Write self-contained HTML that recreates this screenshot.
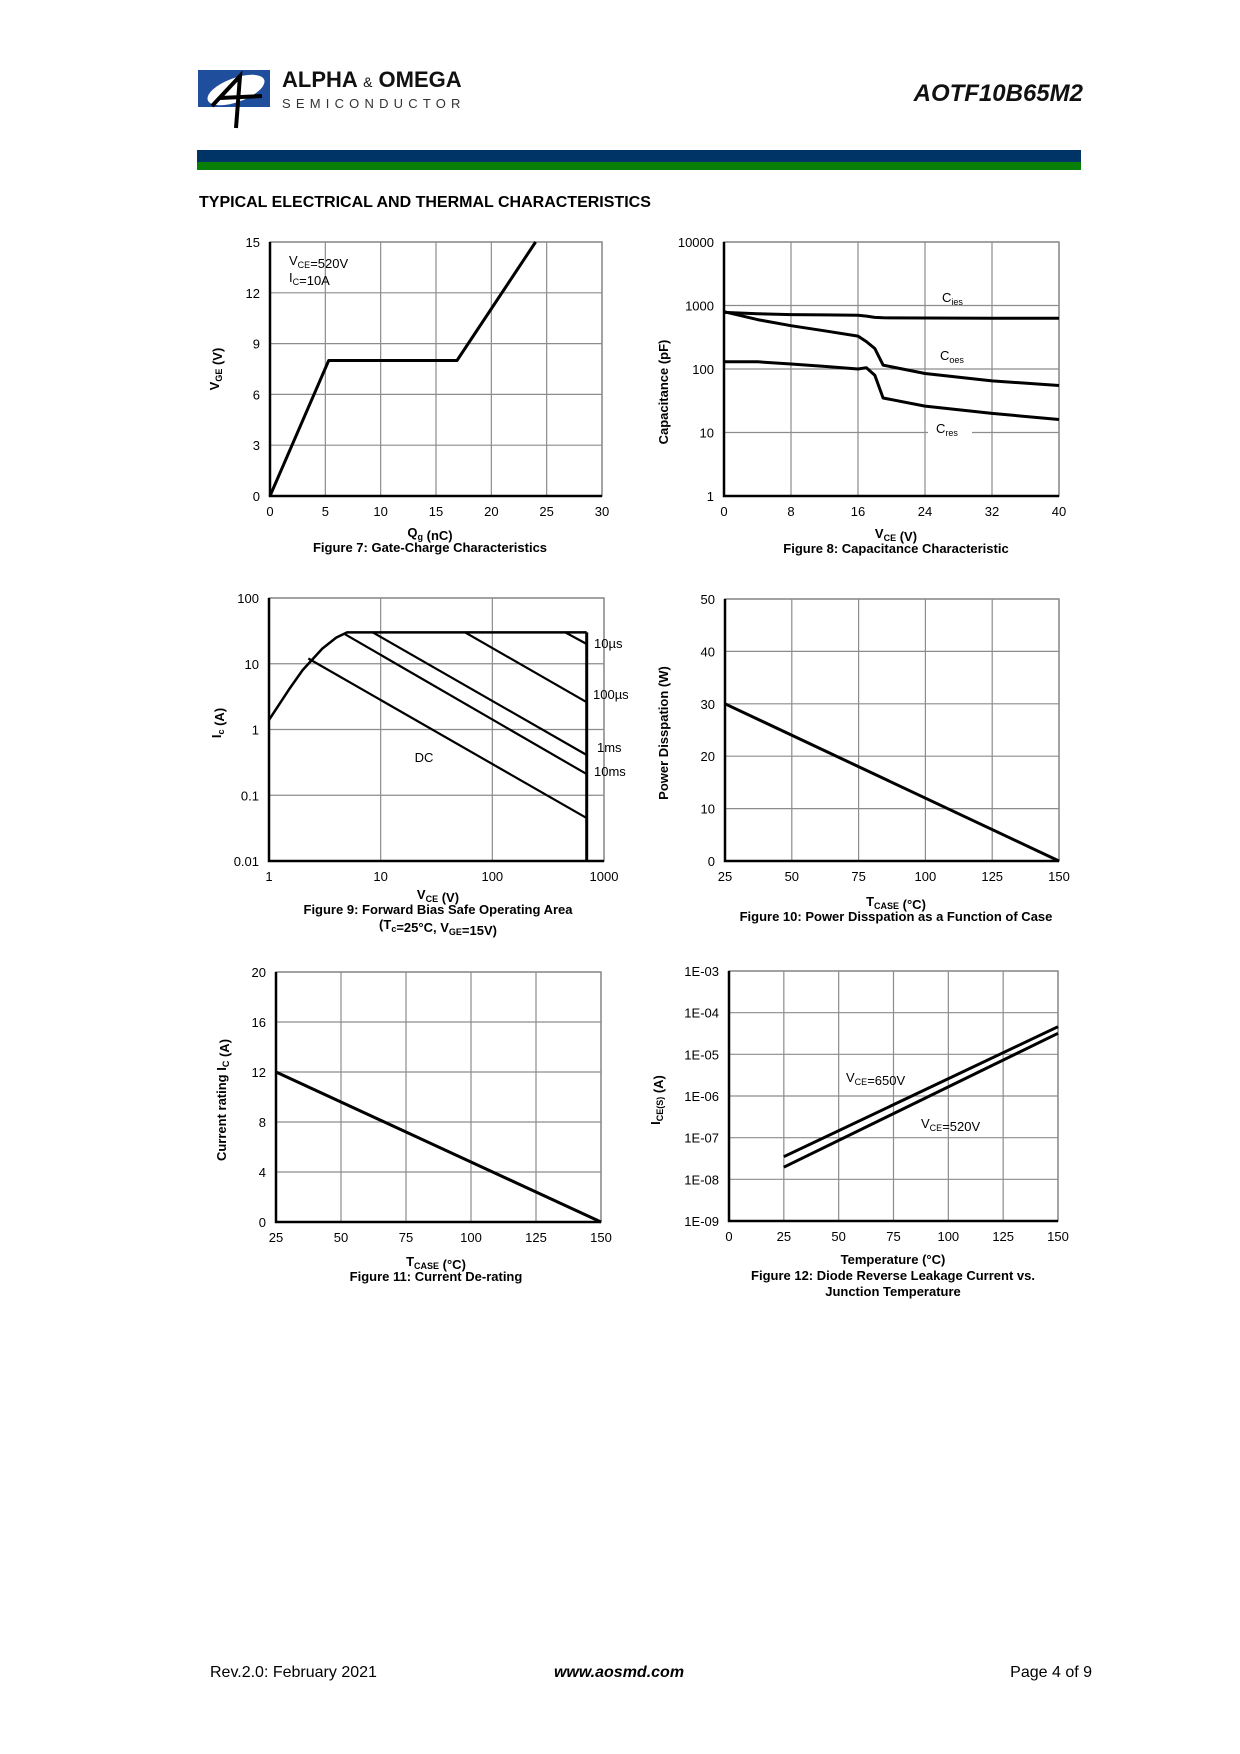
<!DOCTYPE html>
<html><head><meta charset="utf-8"><style>
html,body{margin:0;padding:0;background:#fff;}
svg{display:block;font-family:"Liberation Sans",Arial,sans-serif;}
</style></head><body>
<svg id="page" xmlns="http://www.w3.org/2000/svg" width="1240" height="1754" viewBox="0 0 1240 1754">
<g>
  <rect x="198" y="70" width="72" height="37" fill="#1f4e9c"/>
  <ellipse cx="236" cy="90" rx="30" ry="12" fill="#fff" transform="rotate(-20 236 90)"/>
  <path d="M212 106 L240 76 L236 128 M220 98 L262 96" stroke="#000" stroke-width="4" fill="none"/>
  <text x="282" y="87" font-size="22" font-weight="bold" fill="#111">ALPHA <tspan font-size="14" font-weight="normal">&amp;</tspan> OMEGA</text>
  <text x="282" y="108" font-size="13" letter-spacing="5.2" fill="#333">SEMICONDUCTOR</text>
</g>
<text x="1083" y="101" text-anchor="end" font-size="24" font-weight="bold" font-style="italic" fill="#111">AOTF10B65M2</text>
<rect x="197" y="150" width="884" height="12" fill="#003366"/>
<rect x="197" y="162" width="884" height="8" fill="#088008"/>
<text x="199" y="207" font-size="16" font-weight="bold" fill="#000">TYPICAL ELECTRICAL AND THERMAL CHARACTERISTICS</text>
<g id="charts"></g>
<text x="210" y="1677" font-size="16">Rev.2.0: February 2021</text>
<text x="619" y="1677" font-size="16" font-weight="bold" font-style="italic" text-anchor="middle">www.aosmd.com</text>
<text x="1092" y="1677" font-size="16" text-anchor="end">Page 4 of 9</text>
</svg>
<script>
// Figure 7 data
const f7Ticks = [0,5,10,15,20,25,30];
const f7YTicks = [0,3,6,9,12,15];
const f7Qg = [0,5.3,16.9,24.0];
const f7Vge = [0,8,8,15];
// Figure 8 data
const f8XTicks = [0,8,16,24,32,40];
const f8YTicks = [1,10,100,1000,10000];
const f8Vce = [0,4,8,12,16,17,18,19,24,32,40];
const f8Ciss = [780,740,720,710,700,680,650,640,635,630,630];
const f8Coss = [800,600,480,400,330,270,210,115,85,65,55];
const f8Cres = [130,130,120,110,100,105,80,35,26,20,16];
// Figure 9 data
const f9XTicks = [1,10,100,1000];
const f9YTicks = [0.01,0.1,1,10,100];
const f9YLabels = ["0.01","0.1","1","10","100"];
const f9CurveV = [1,1.5,2,3,4,5,700];
const f9CurveI = [1.4,4,8,17,25,30,30];
const f9DCV = [2.25,700]; const f9DCI = [12,0.045];
const f910msV = [4.8,700]; const f910msI = [28,0.21];
const f91msV = [8.5,700]; const f91msI = [30,0.41];
const f9100usV = [57,700]; const f9100usI = [30,2.6];
const f910usV = [450,700]; const f910usI = [30,20];
const f9LimitV = 700;
// Figure 10 data
const f10XTicks = [25,50,75,100,125,150];
const f10YTicks = [0,10,20,30,40,50];
const f10T = [25,150]; const f10P = [30,0];
// Figure 11 data
const f11XTicks = [25,50,75,100,125,150];
const f11YTicks = [0,4,8,12,16,20];
const f11T = [25,150]; const f11I = [12,0];
// Figure 12 data
const f12XTicks = [0,25,50,75,100,125,150];
const f12YTicks = [1e-9,1e-8,1e-7,1e-6,1e-5,1e-4,1e-3];
const f12YLabels = ["1E-09","1E-08","1E-07","1E-06","1E-05","1E-04","1E-03"];
const f12T = [25,150];
const f12I650 = [3.5e-8,4.6e-5];
const f12I520 = [1.95e-8,3.2e-5];

const NS="http://www.w3.org/2000/svg";
const root=document.getElementById('charts');
function mk(tag,attrs,parent,txt){const e=document.createElementNS(NS,tag);for(const k in attrs)e.setAttribute(k,attrs[k]);if(txt!==undefined)e.textContent=txt;(parent||root).appendChild(e);return e;}
function lin(d0,d1,r0,r1){return v=>r0+(v-d0)/(d1-d0)*(r1-r0);}
function lg(d0,d1,r0,r1){return v=>r0+(Math.log10(v)-Math.log10(d0))/(Math.log10(d1)-Math.log10(d0))*(r1-r0);}
function frame(g,x0,y0,x1,y1,xs,ys,xt,yt,xl,yl){
  xt.forEach(t=>{const l=mk('line',{x1:xs(t),x2:xs(t),y1:y0,y2:y1,stroke:'#8c8c8c','stroke-width':1.2},g);
    
    const tx=mk('text',{x:xs(t),y:y1+20,'font-size':13,'text-anchor':'middle'},g,xl?xl(t):t);
    });
  yt.forEach((t,i)=>{const l=mk('line',{x1:x0,x2:x1,y1:ys(t),y2:ys(t),stroke:'#8c8c8c','stroke-width':1.2},g);
    
    const tx=mk('text',{x:x0-10,y:ys(t)+5,'font-size':13,'text-anchor':'end'},g,yl?yl[i]:t);
    });
  const r=mk('rect',{x:x0,y:y0,width:x1-x0,height:y1-y0,fill:'none',stroke:'#8c8c8c','stroke-width':1.5},g);
  
  const ax=mk('path',{d:`M${x0} ${y0}V${y1}H${x1}`,fill:'none',stroke:'#000','stroke-width':2.5},g);
  
}
function series(g,xs,ys,X,Y,name,w){
  const d=X.map((v,i)=>(i?'L':'M')+xs(v).toFixed(1)+' '+ys(Y[i]).toFixed(1)).join('');
  const p=mk('path',{d:d,fill:'none',stroke:'#000','stroke-width':w||3,'stroke-linejoin':'round'},g);
  return p;
}
function txt(g,x,y,html,size,name,anchor,rot,bold){
  const t=mk('text',{x:x,y:y,'font-size':size,'text-anchor':anchor||'middle','font-weight':bold?'bold':'normal'},g);
  if(rot)t.setAttribute('transform',`rotate(-90 ${x} ${y})`);
  t.innerHTML=html;return t;
}
const sub=(s)=>`<tspan font-size="9" dy="3">${s}</tspan><tspan dy="-3"></tspan>`;

// Fig 7
{const g=mk('g',{});
const x0=270,x1=602,y0=242,y1=496;const xs=lin(0,30,x0,x1),ys=lin(0,15,y1,y0);
frame(g,x0,y0,x1,y1,xs,ys,f7Ticks,f7YTicks);
series(g,xs,ys,f7Qg,f7Vge,'vge-curve');
txt(g,289,265,'V'+sub('CE')+'=520V',13,'condition-vce','start');
txt(g,289,282,'I'+sub('C')+'=10A',13,'condition-ic','start');
txt(g,219,369,'V'+sub('GE')+' (V)',13,'y-axis-title','middle',true,true);
txt(g,430,537,'Q'+sub('g')+' (nC)',13,'x-axis-title','middle',false,true);
txt(g,430,552,'Figure 7: Gate-Charge Characteristics',13,'figure-7-caption','middle',false,true);}

// Fig 8
{const g=mk('g',{});
const x0=724,x1=1059,y0=242,y1=496;const xs=lin(0,40,x0,x1),ys=lg(1,10000,y1,y0);
frame(g,x0,y0,x1,y1,xs,ys,f8XTicks,f8YTicks);
series(g,xs,ys,f8Vce,f8Ciss,'ciss-curve');series(g,xs,ys,f8Vce,f8Coss,'coss-curve');series(g,xs,ys,f8Vce,f8Cres,'cres-curve');
mk('rect',{x:928,y:418,width:44,height:16,fill:'#fff'},g);
txt(g,942,302,'C'+sub('ies'),13,'ciss-label','start');
txt(g,940,360,'C'+sub('oes'),13,'coss-label','start');
txt(g,936,433,'C'+sub('res'),13,'cres-label','start');
txt(g,668,392,'Capacitance (pF)',13,'y-axis-title','middle',true,true);
txt(g,896,538,'V'+sub('CE')+' (V)',13,'x-axis-title','middle',false,true);
txt(g,896,553,'Figure 8: Capacitance Characteristic',13,'figure-8-caption','middle',false,true);}

// Fig 9
{const g=mk('g',{});
const x0=269,x1=604,y0=598,y1=861;const xs=lg(1,1000,x0,x1),ys=lg(0.01,100,y1,y0);
frame(g,x0,y0,x1,y1,xs,ys,f9XTicks,f9YTicks,null,f9YLabels);
series(g,xs,ys,f9CurveV,f9CurveI,'soa-boundary',2.5);
const lim=mk('line',{x1:xs(f9LimitV),x2:xs(f9LimitV),y1:ys(30),y2:y1,stroke:'#000','stroke-width':3},g);

series(g,xs,ys,f9DCV,f9DCI,'dc-line',2.2);series(g,xs,ys,f910msV,f910msI,'10ms-line',2.2);
series(g,xs,ys,f91msV,f91msI,'1ms-line',2.2);series(g,xs,ys,f9100usV,f9100usI,'100us-line',2.2);
series(g,xs,ys,f910usV,f910usI,'10us-line',2.2);
txt(g,594,648,'10µs',13,'label-10us','start');txt(g,593,699,'100µs',13,'label-100us','start');
txt(g,597,752,'1ms',13,'label-1ms','start');txt(g,594,776,'10ms',13,'label-10ms','start');
txt(g,424,762,'DC',13,'label-dc');
txt(g,221,723,'I'+sub('c')+' (A)',13,'y-axis-title','middle',true,true);
txt(g,438,899,'V'+sub('CE')+' (V)',13,'x-axis-title','middle',false,true);
txt(g,438,914,'Figure 9: Forward Bias Safe Operating Area',13,'figure-9-caption','middle',false,true);
txt(g,438,929,'(T'+sub('c')+'=25°C, V'+sub('GE')+'=15V)',13,'figure-9-conditions','middle',false,true);}

// Fig 10
{const g=mk('g',{});
const x0=725,x1=1059,y0=599,y1=861;const xs=lin(25,150,x0,x1),ys=lin(0,50,y1,y0);
frame(g,x0,y0,x1,y1,xs,ys,f10XTicks,f10YTicks);
series(g,xs,ys,f10T,f10P,'power-line');
txt(g,668,733,'Power Disspation (W)',13,'y-axis-title','middle',true,true);
txt(g,896,906,'T'+sub('CASE')+' (°C)',13,'x-axis-title','middle',false,true);
txt(g,896,921,'Figure 10: Power Disspation as a Function of Case',13,'figure-10-caption','middle',false,true);}

// Fig 11
{const g=mk('g',{});
const x0=276,x1=601,y0=972,y1=1222;const xs=lin(25,150,x0,x1),ys=lin(0,20,y1,y0);
frame(g,x0,y0,x1,y1,xs,ys,f11XTicks,f11YTicks);
series(g,xs,ys,f11T,f11I,'current-line');
txt(g,226,1100,'Current rating I'+sub('C')+' (A)',13,'y-axis-title','middle',true,true);
txt(g,436,1266,'T'+sub('CASE')+' (°C)',13,'x-axis-title','middle',false,true);
txt(g,436,1281,'Figure 11: Current De-rating',13,'figure-11-caption','middle',false,true);}

// Fig 12
{const g=mk('g',{});
const x0=729,x1=1058,y0=971,y1=1221;const xs=lin(0,150,x0,x1),ys=lg(1e-9,1e-3,y1,y0);
frame(g,x0,y0,x1,y1,xs,ys,f12XTicks,f12YTicks,null,f12YLabels);
series(g,xs,ys,f12T,f12I650,'leakage-650v');series(g,xs,ys,f12T,f12I520,'leakage-520v');
txt(g,846,1082,'V'+sub('CE')+'=650V',13,'label-650v','start');
txt(g,921,1128,'V'+sub('CE')+'=520V',13,'label-520v','start');
txt(g,660,1100,'I'+sub('CE(S)')+' (A)',13,'y-axis-title','middle',true,true);
txt(g,893,1264,'Temperature (°C)',13,'x-axis-title','middle',false,true);
txt(g,893,1280,'Figure 12: Diode Reverse Leakage Current vs.',13,'figure-12-caption','middle',false,true);
txt(g,893,1296,'Junction Temperature',13,'figure-12-caption-2','middle',false,true);}
</script>
</body></html>
